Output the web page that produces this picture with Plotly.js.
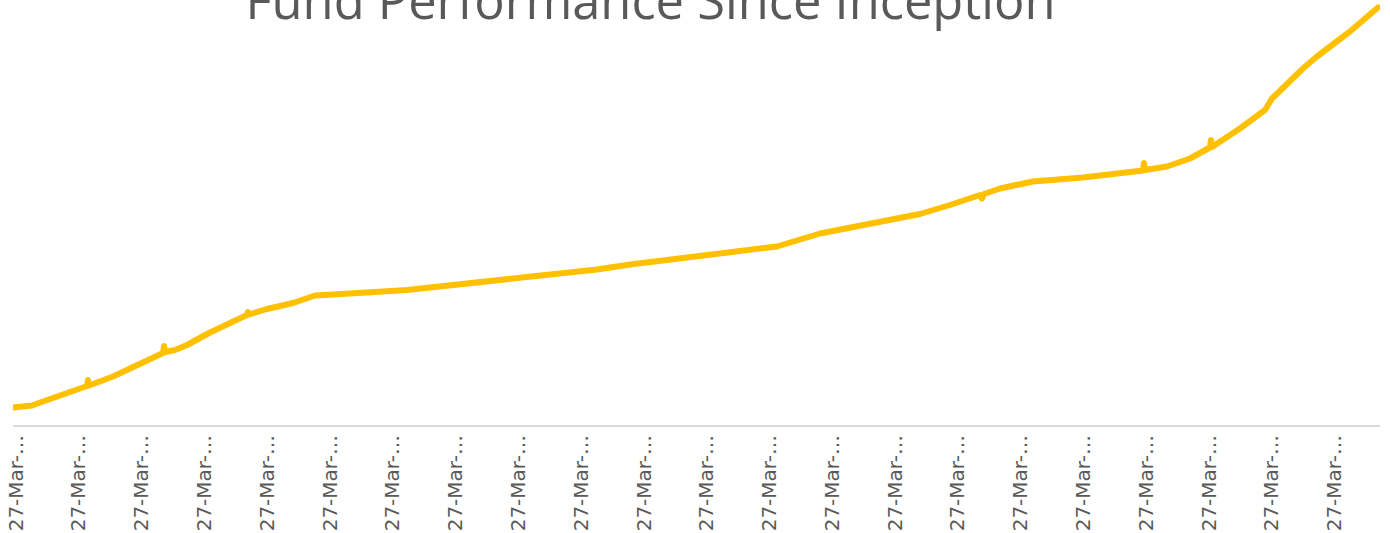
<!DOCTYPE html>
<html>
<head>
<meta charset="utf-8">
<script src="https://cdn.plot.ly/plotly-3.0.1.min.js"></script>
<style>
html,body{margin:0;padding:0;background:#fff;}
#chart{width:1390px;height:533px;}
#chart path.js-line{stroke-linejoin:round;stroke-linecap:round;}
</style>
</head>
<body>
<div id="chart"></div>
<script>
// x: years after the first "27-Mar" label; y: fund value (growth index)
const years = [-0.048, 0.255, 0.430, 0.701, 1.131, 1.146, 1.162, 1.545, 2.086, 2.182, 2.341, 2.357, 2.373, 2.532, 2.723, 3.089, 3.455, 3.678, 3.694, 3.710, 3.997, 4.411, 4.761, 5.048, 5.318, 6.226, 6.959, 7.659, 8.296, 9.252, 9.777, 10.573, 11.369, 12.118, 12.803, 13.392, 14.029, 14.395, 14.873, 15.350, 15.382, 15.414, 15.669, 16.194, 16.990, 17.787, 17.946, 17.962, 17.978, 18.328, 18.694, 19.013, 19.029, 19.045, 19.490, 19.889, 20.000, 20.494, 20.717, 21.242, 21.688];
const fundValue = [101, 105, 113, 126, 144, 156, 145, 163, 196, 202, 210, 224, 212, 216, 226, 251, 273, 286, 292, 287, 298, 310, 325, 328, 329, 336, 346, 355, 365, 377, 387, 399, 413, 423, 449, 463, 477, 488, 506, 526, 519, 528, 539, 553, 561, 571, 575, 590, 576, 583, 599, 621, 636, 622, 659, 696, 719, 779, 803, 853, 901];
const tickPositions = [0,1,2,3,4,5,6,7,8,9,10,11,12,13,14,15,16,17,18,19,20,21];
const tickLabels = tickPositions.map(() => "27-Mar-…");

const trace = {
  x: years,
  y: fundValue,
  type: "scatter",
  mode: "lines",
  line: {color: "#FFC000", width: 6},
  hoverinfo: "x+y"
};

const layout = {
  width: 1390,
  height: 533,
  margin: {l: 13, r: 10, t: 0, b: 108},
  paper_bgcolor: "#ffffff",
  plot_bgcolor: "#ffffff",
  showlegend: false,
  font: {family: "Open Sans, sans-serif", color: "#595959"},
  title: {
    text: "Fund Performance Since Inception",
    font: {family: "Open Sans, sans-serif", size: 50.6, color: "#595959"},
    xref: "container", yref: "container",
    x: 0.468, xanchor: "center",
    y: 0.9644, yanchor: "bottom"
  },
  xaxis: {
    range: [-0.048, 21.72],
    tickmode: "array",
    tickvals: tickPositions,
    ticktext: tickLabels,
    tickangle: -90,
    tickfont: {family: "DejaVu Sans, sans-serif", size: 20, color: "#595959"},
    ticks: "",
    showgrid: false,
    zeroline: false,
    showline: true,
    linecolor: "#D9D9D9",
    linewidth: 2
  },
  yaxis: {
    range: [66, 916],
    showticklabels: false,
    showgrid: false,
    zeroline: false,
    showline: false,
    ticks: ""
  }
};

Plotly.newPlot("chart", [trace], layout, {displayModeBar: false, staticPlot: true});
</script>
</body>
</html>
